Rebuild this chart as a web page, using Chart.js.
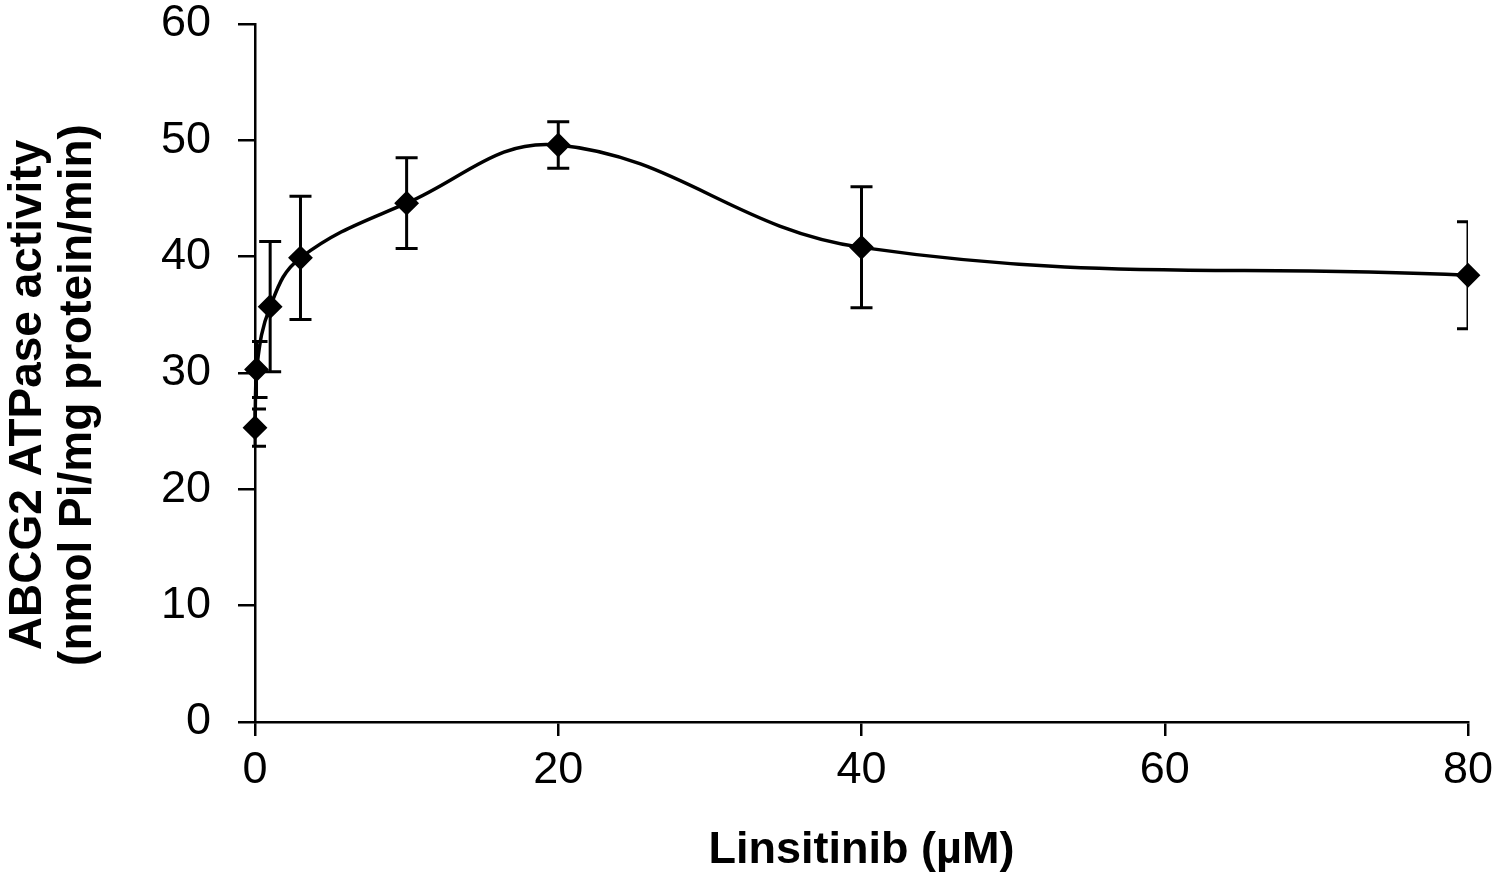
<!DOCTYPE html>
<html>
<head>
<meta charset="utf-8">
<script src="https://cdn.jsdelivr.net/npm/chart.js@4/dist/chart.umd.min.js"></script>
<style>
  html, body { margin: 0; padding: 0; background: #fff; }
  #wrap { width: 1500px; height: 875px; }
</style>
</head>
<body>
<div id="wrap"><canvas id="atpaseChart" width="1500" height="875"></canvas></div>
<script>
// Linsitinib concentration (uM) and ABCG2 ATPase activity
const concentrations = [0, 0.1, 1, 3, 10, 20, 40, 80];
const activity = [25.3, 30.3, 35.7, 39.9, 44.6, 49.6, 40.8, 38.4];
const errors = [1.6, 2.4, 5.6, 5.3, 3.9, 2.0, 5.2, 4.6];

const xTickLabels = [0, 20, 40, 60, 80];
const yTickLabels = [0, 10, 20, 30, 40, 50, 60];
const yTitleLines = ['ABCG2 ATPase activity', '(nmol Pi/mg protein/min)'];

const FONT = '"Liberation Sans", Arial, sans-serif';

// draws the vertical error bars with caps, clipped to the plot area
const errorBars = {
    id: 'errorBars',
    beforeDatasetsDraw(chart) {
        const ctx = chart.ctx;
        const xs = chart.scales.x, ys = chart.scales.y;
        const area = chart.chartArea;
        ctx.save();
        ctx.beginPath();
        ctx.rect(area.left - 3, area.top - 30, area.right - area.left + 3, area.bottom - area.top + 60);
        ctx.clip();
        ctx.strokeStyle = '#000';
        ctx.lineWidth = 3;
        concentrations.forEach((c, i) => {
            const px = xs.getPixelForValue(c);
            const top = ys.getPixelForValue(activity[i] + errors[i]);
            const bot = ys.getPixelForValue(activity[i] - errors[i]);
            ctx.beginPath();
            ctx.moveTo(px, top); ctx.lineTo(px, bot);
            ctx.moveTo(px - 11, top); ctx.lineTo(px + 11, top);
            ctx.moveTo(px - 11, bot); ctx.lineTo(px + 11, bot);
            ctx.stroke();
        });
        ctx.restore();
    }
};

// y axis title, two rotated lines, sitting a bit below the plot-area centre like the original
const yTitle = {
    id: 'yTitle',
    afterDraw(chart) {
        const ctx = chart.ctx;
        const area = chart.chartArea;
        const cy = (area.top + area.bottom) / 2 + 22;
        ctx.save();
        ctx.fillStyle = '#000';
        ctx.font = 'bold 46px ' + FONT;
        ctx.textAlign = 'center';
        ctx.textBaseline = 'middle';
        yTitleLines.forEach((line, i) => {
            ctx.save();
            ctx.translate(28 + i * 50, cy);
            ctx.rotate(-Math.PI / 2);
            ctx.fillText(line, 0, 0);
            ctx.restore();
        });
        ctx.restore();
    }
};

const ctx = document.getElementById('atpaseChart').getContext('2d');
new Chart(ctx, {
    type: 'line',
    data: {
        datasets: [{
            data: concentrations.map((c, i) => ({ x: c, y: activity[i] })),
            borderColor: '#000',
            backgroundColor: '#000',
            borderWidth: 3.5,
            tension: 0.4,
            pointStyle: 'rectRot',
            pointRadius: 11,
            pointBorderWidth: 2,
            pointBackgroundColor: '#000',
            pointBorderColor: '#000',
            clip: false
        }]
    },
    options: {
        responsive: false,
        animation: false,
        layout: { padding: { top: 24, right: 32, bottom: 0, left: 0 } },
        plugins: { legend: { display: false }, tooltip: { enabled: false } },
        scales: {
            x: {
                type: 'linear',
                min: 0, max: 80,
                afterFit(scale) { scale.height = 153; scale.paddingLeft = 0; scale.paddingRight = 0; },
                afterBuildTicks(scale) { scale.ticks = xTickLabels.map(v => ({ value: v })); },
                border: { color: '#000', width: 2.5 },
                grid: { drawOnChartArea: false, drawTicks: true, tickLength: 14, color: '#000', lineWidth: 2.5 },
                ticks: { color: '#000', padding: 8, font: { family: FONT, size: 45 } },
                title: {
                    display: true,
                    text: 'Linsitinib (µM)',
                    color: '#000',
                    padding: { top: 0, bottom: 0 },
                    font: { family: FONT, size: 45, weight: 'bold', lineHeight: 1.1 }
                }
            },
            y: {
                min: 0, max: 60,
                afterFit(scale) { scale.width = 255; scale.paddingTop = 0; scale.paddingBottom = 0; },
                afterBuildTicks(scale) { scale.ticks = yTickLabels.map(v => ({ value: v })); },
                border: { color: '#000', width: 2.5 },
                grid: { drawOnChartArea: false, drawTicks: true, tickLength: 17, color: '#000', lineWidth: 2.5 },
                ticks: { color: '#000', padding: 27, font: { family: FONT, size: 45 } },
                title: { display: false }
            }
        }
    },
    plugins: [errorBars, yTitle]
});
</script>
</body>
</html>
